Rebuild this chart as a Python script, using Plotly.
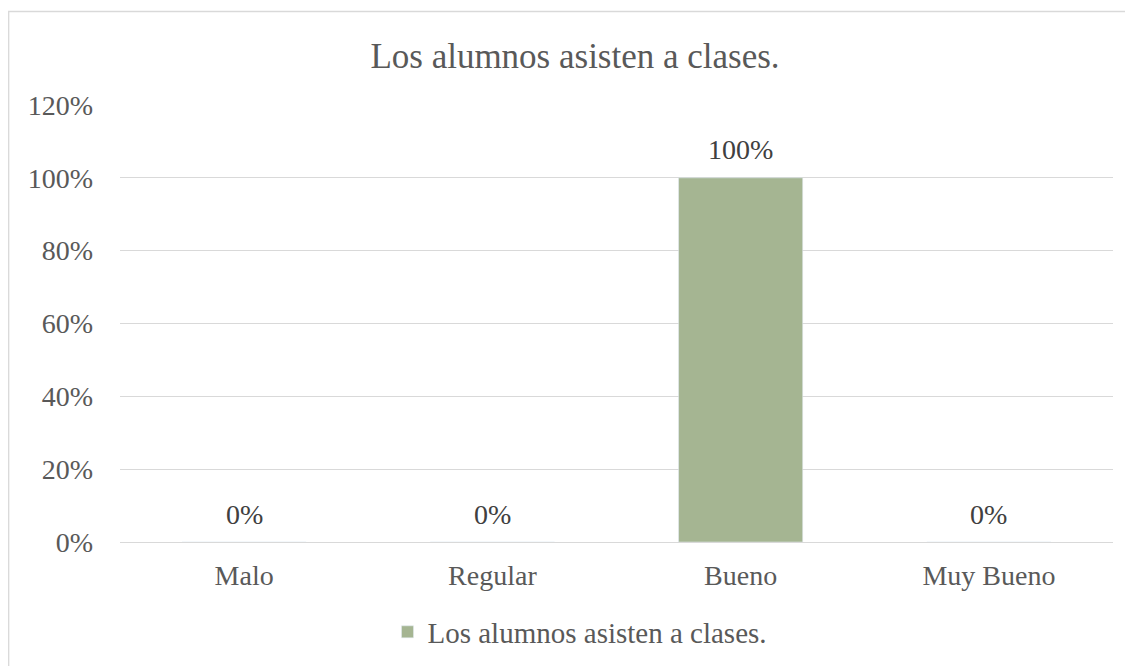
import plotly.graph_objects as go

categories = ["Malo", "Regular", "Bueno", "Muy Bueno"]
values = [0, 0, 1.0, 0]
labels = ["0%", "0%", "100%", "0%"]
series_name = "Los alumnos asisten a clases."
title_text = "Los alumnos asisten a clases."

# page body adds an 8px offset; figure sized to fit the window
W, H = 1125, 658
ml, mr, mt, mb = 112, 20, 97, 124
pw, ph = W - ml - mr, H - mt - mb

font_family = "Liberation Serif, Times New Roman, serif"
txt = "#595959"

fig = go.Figure()
fig.add_trace(go.Bar(
    x=categories, y=values, name=series_name,
    marker=dict(color="#A5B592"),
    cliponaxis=False,
))

annotations = [
    dict(x=c, y=v, text=t, xref="x", yref="y", showarrow=False,
         yanchor="middle", yshift=28,
         font=dict(size=28, color="#404040", family=font_family))
    for c, v, t in zip(categories, values, labels)
]

fig.update_layout(
    width=W, height=H,
    margin=dict(l=ml, r=mr, t=mt, b=mb, autoexpand=False),
    paper_bgcolor="white", plot_bgcolor="white",
    title=dict(text=title_text, x=567 / W, xanchor="center", y=1 - 48 / H, yanchor="middle",
               font=dict(size=35, color=txt, family=font_family)),
    bargap=0.5,
    showlegend=True,
    legend=dict(orientation="h", x=(572 - ml) / pw, xanchor="center", y=-(624 - (mt + ph)) / ph, yanchor="middle",
                font=dict(size=29, color=txt, family=font_family)),
    yaxis=dict(range=[0, 1.2], tickvals=[0, 0.2, 0.4, 0.6, 0.8, 1.0, 1.2],
               tickformat=".0%", showgrid=True, gridcolor="#D9D9D9", gridwidth=1.3,
               zeroline=False, showline=False, ticks="", ticklabelstandoff=26,
               tickfont=dict(size=28, color=txt, family=font_family)),
    xaxis=dict(showgrid=False, showline=True, linecolor="#D9D9D9", linewidth=1.3,
               ticks="", ticklabelstandoff=8,
               tickfont=dict(size=28, color=txt, family=font_family)),
    annotations=annotations,
    shapes=[dict(type="rect", xref="paper", yref="paper",
                 x0=(0.7 - ml) / pw, x1=1.1, y0=-0.6, y1=1 + (mt - 3.5) / ph,
                 line=dict(color="#D9D9D9", width=1.3), fillcolor="rgba(0,0,0,0)", layer="below")],
)

fig.write_html("out.html")
